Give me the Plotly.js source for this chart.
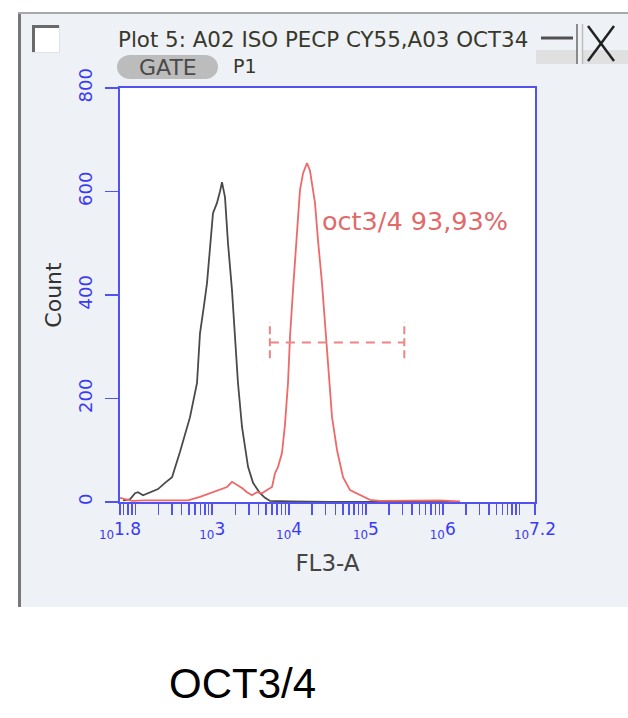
<!DOCTYPE html>
<html>
<head>
<meta charset="utf-8">
<script src="https://cdn.plot.ly/plotly-3.0.1.min.js"></script>
<style>html,body{margin:0;padding:0;background:#fff;}#chart{width:628px;height:718px;}</style>
</head>
<body>
<div id="chart"></div>
<script>
// ---- data (FL3-A fluorescence, Count) ----
const isoX   = [69, 85, 99, 108, 126, 146, 197, 243, 300, 381, 514, 634, 693, 782, 855, 1023, 1153, 1262, 1340, 1466, 1604, 1807, 1977, 2163, 2441, 2672, 2924, 3397, 4188, 4864, 5650, 10280, 33900, 275000, 1230000];
const isoY   = [3, 5, 17, 19, 13, 17, 25, 37, 48, 97, 164, 230, 326, 380, 423, 558, 578, 600, 618, 589, 500, 410, 326, 230, 145, 110, 68, 37, 17, 8, 2, 1, 0, 0, 0];
const octX   = [63, 73, 90, 133, 484, 693, 935, 1262, 1556, 1807, 2099, 2440, 2835, 3294, 3827, 4446, 5166, 6002, 6568, 7186, 8093, 8850, 9683, 10280, 11250, 12690, 13870, 15180, 17110, 18720, 19870, 21740, 23780, 26810, 31160, 36220, 42100, 50370, 62110, 83780, 113000, 152400, 920000, 1675000];
const octY   = [8, 6, 2, 3, 3, 10, 17, 23, 29, 39, 33, 27, 19, 13, 19, 17, 23, 29, 56, 68, 95, 150, 230, 319, 410, 520, 603, 635, 655, 640, 616, 578, 506, 423, 294, 164, 100, 48, 23, 13, 4, 2, 3, 1];
// gate marker "oct3/4"
const gateLow = 5623, gateHigh = 316000, gateLevel = 308, gateBarLow = 278, gateBarHigh = 348;
const gateLabel = "oct3/4 93,93%";
// axes
const yTickVals = [0, 200, 400, 600, 800];
const xMajorVals = [63.0958, 1e3, 1e4, 1e5, 1e6, 15848930];
const xMajorExp  = ["1.8", "3", "4", "5", "6", "7.2"];
const xMinorVals = [70, 80, 90, 100, 200, 300, 400, 500, 600, 700, 800, 900,
  2000, 3000, 4000, 5000, 6000, 7000, 8000, 9000,
  20000, 30000, 40000, 50000, 60000, 70000, 80000, 90000,
  200000, 300000, 400000, 500000, 600000, 700000, 800000, 900000,
  2000000, 3000000, 4000000, 5000000, 6000000, 7000000, 8000000, 9000000, 10000000];
const plotTitle = "Plot 5: A02 ISO PECP CY55,A03 OCT34";
const gateName = "GATE", gateValue = "P1";
const xTitle = "FL3-A", yTitle = "Count", caption = "OCT3/4";

// ---- pixel helpers for decorations (plot area 120..535 x 88..502) ----
const PX0 = 120, PW = 415, PY0 = 502, PH = 414;
const px = x => (x - PX0) / PW;
const py = y => (PY0 - y) / PH;
const BLUE = '#5252f0', TBLUE = '#3a3af5';
const F = 'DejaVu Sans, sans-serif';

const tickText = xMajorExp.map(e => '<sub>10</sub>' + e);

const traces = [
  {x: isoX, y: isoY, type: 'scatter', mode: 'lines', line: {color: '#4a4a4a', width: 1.8}, hoverinfo: 'skip'},
  {x: octX, y: octY, type: 'scatter', mode: 'lines', line: {color: '#f06868', width: 1.8}, hoverinfo: 'skip'},
  {x: [gateLow, gateHigh], y: [gateLevel, gateLevel], type: 'scatter', mode: 'lines', line: {color: '#ec8585', width: 2, dash: '9px,7px'}, hoverinfo: 'skip'},
  {x: [gateLow, gateLow], y: [gateBarLow, gateBarHigh], type: 'scatter', mode: 'lines', line: {color: '#ec8585', width: 2, dash: '8px,4px'}, hoverinfo: 'skip'},
  {x: [gateHigh, gateHigh], y: [gateBarLow, gateBarHigh], type: 'scatter', mode: 'lines', line: {color: '#ec8585', width: 2, dash: '8px,4px'}, hoverinfo: 'skip'}
];

function rect(x0, y0, x1, y1, fill, extra) {
  return Object.assign({type: 'rect', xref: 'paper', yref: 'paper', layer: 'below',
    x0: px(x0), x1: px(x1), y0: py(y1), y1: py(y0), fillcolor: fill, line: {width: 0}}, extra || {});
}
function seg(x0, y0, x1, y1, color, w, layer) {
  return {type: 'line', xref: 'paper', yref: 'paper', layer: layer || 'below',
    x0: px(x0), x1: px(x1), y0: py(y0), y1: py(y1), line: {color: color, width: w}};
}
function circ(x0, y0, x1, y1, fill) {
  return {type: 'circle', xref: 'paper', yref: 'paper', layer: 'below',
    x0: px(x0), x1: px(x1), y0: py(y1), y1: py(y0), fillcolor: fill, line: {width: 0}};
}

const shapes = [
  rect(18, 12, 640, 607, '#eef1f6'),
  seg(19.5, 12, 19.5, 607, '#777777', 3),
  seg(18, 13, 640, 13, '#a8a8a8', 2),
  rect(120, 88, 535, 502, '#ffffff'),
  // checkbox
  rect(32, 25, 60, 53, '#ffffff'),
  seg(32, 26.5, 60, 26.5, '#6a6a6a', 3),
  seg(33.5, 25, 33.5, 53, '#6a6a6a', 3),
  seg(32, 52.5, 60, 52.5, '#e2e2e2', 1),
  seg(59.5, 25, 59.5, 53, '#e2e2e2', 1),
  // gate pill
  circ(117, 55, 143, 79, '#bcbcbc'),
  circ(192, 55, 218, 79, '#bcbcbc'),
  rect(130, 55, 205, 79, '#bcbcbc'),
  // minimize button
  rect(536, 50, 577, 64, '#e0e0e0'),
  seg(541, 38, 573, 38, '#505050', 3),
  seg(577, 24, 577, 64, '#8a8a8a', 2),
  // close button
  rect(583, 50, 630, 64, '#e0e0e0'),
  seg(582.5, 24, 582.5, 64, '#bdbdbd', 1.5),
  seg(588, 26, 614, 61, '#222222', 2.5),
  seg(614, 26, 588, 61, '#222222', 2.5)
];

const annotations = [
  {text: plotTitle, xref: 'paper', yref: 'paper', x: px(116), y: py(40), xanchor: 'left', yanchor: 'middle', showarrow: false,
   font: {family: F, size: 21.4, color: '#38382a'}},
  {text: gateName, xref: 'paper', yref: 'paper', x: px(168), y: py(67), xanchor: 'center', yanchor: 'middle', showarrow: false,
   font: {family: F, size: 22, color: '#4a4a4a'}},
  {text: gateValue, xref: 'paper', yref: 'paper', x: px(231), y: py(66), xanchor: 'left', yanchor: 'middle', showarrow: false,
   font: {family: F, size: 19, color: '#38382a'}},
  {text: gateLabel, xref: 'paper', yref: 'paper', x: px(320), y: py(221), xanchor: 'left', yanchor: 'middle', showarrow: false,
   font: {family: F, size: 25.5, color: '#e06a6a'}},
  {text: caption, xref: 'paper', yref: 'paper', x: px(242), y: py(683), xanchor: 'center', yanchor: 'middle', showarrow: false,
   font: {family: 'Liberation Sans, Arial, sans-serif', size: 42, color: '#000000'}}
];

const layout = {
  width: 628, height: 718,
  margin: {l: 120, r: 93, t: 88, b: 216, pad: 0},
  paper_bgcolor: '#ffffff', plot_bgcolor: '#ffffff',
  showlegend: false,
  xaxis: {
    type: 'log', range: [1.7999, 7.2001], fixedrange: true,
    tickmode: 'array', tickvals: xMajorVals, ticktext: tickText,
    ticks: 'outside', ticklen: 11, tickwidth: 1.5, tickcolor: BLUE,
    minor: {tickmode: 'array', tickvals: xMinorVals, ticks: 'outside', ticklen: 11, tickwidth: 1.5, tickcolor: BLUE, showgrid: false},
    tickfont: {family: F, size: 17, color: TBLUE},
    showline: true, linecolor: BLUE, linewidth: 2, mirror: true,
    showgrid: false, zeroline: false,
    title: {text: xTitle, font: {family: F, size: 23, color: '#444444'}, standoff: 14}
  },
  yaxis: {
    range: [0, 800], fixedrange: true,
    tickmode: 'array', tickvals: yTickVals, tickangle: -90,
    ticks: 'outside', ticklen: 13, tickwidth: 1.5, tickcolor: BLUE,
    ticklabelstandoff: 6,
    tickfont: {family: F, size: 18, color: TBLUE},
    showline: true, linecolor: BLUE, linewidth: 2, mirror: true,
    showgrid: false, zeroline: false,
    title: {text: yTitle, font: {family: F, size: 22, color: '#333333'}, standoff: 7}
  },
  shapes: shapes,
  annotations: annotations
};

Plotly.newPlot('chart', traces, layout, {displayModeBar: false, staticPlot: true});
</script>
</body>
</html>
